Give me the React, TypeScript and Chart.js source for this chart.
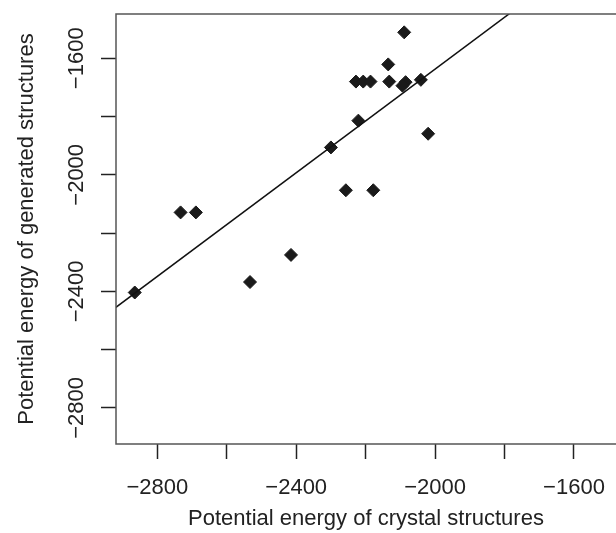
import React, { useEffect, useRef } from "react";
import { Chart, registerables } from "chart.js";

Chart.register(...registerables);

// Data
const crystalEnergy = [
  -2865, -2733, -2689, -2533, -2415, -2300, -2257, -2221, -2178, -2020,
  -2089, -2135, -2228, -2207, -2186, -2132, -2085, -2094, -2041,
];
const generatedEnergy = [
  -2404, -2129, -2129, -2368, -2275, -1906, -2053, -1814, -2053, -1859,
  -1511, -1621, -1680, -1680, -1680, -1680, -1682, -1694, -1674,
];
// Fitted line end points
const fitX = [-2950, -1450];
const fitY = [-2482, -1148];

const xTickValues = [-2800, -2600, -2400, -2200, -2000, -1800, -1600];
const yTickValues = [-2800, -2600, -2400, -2200, -2000, -1800, -1600];
const xLabelValues = [-2800, -2400, -2000, -1600];
const yLabelValues = [-2800, -2400, -2000, -1600];

const xTitle = "Potential energy of crystal structures";
const yTitle = "Potential energy of generated structures";

const FONT = "'Liberation Sans', Arial, Helvetica, sans-serif";

export default function App() {
  const ref = useRef<HTMLCanvasElement | null>(null);

  useEffect(() => {
    if (!ref.current) return;
    const boxPlugin = {
      id: "box",
      afterDatasetsDraw(chart: any) {
        const { ctx, chartArea } = chart;
        ctx.save();
        ctx.strokeStyle = "#555555";
        ctx.lineWidth = 1.5;
        ctx.beginPath();
        ctx.moveTo(chartArea.right + 2, chartArea.top);
        ctx.lineTo(chartArea.left, chartArea.top);
        ctx.lineTo(chartArea.left, chartArea.bottom);
        ctx.lineTo(chartArea.right + 2, chartArea.bottom);
        ctx.stroke();
        ctx.restore();
      },
    };
    const points = crystalEnergy.map((x, i) => ({ x, y: generatedEnergy[i] }));
    const fit = fitX.map((x, i) => ({ x, y: fitY[i] }));
    const chart = new Chart(ref.current, {
      type: "scatter",
      data: {
        datasets: [
          {
            type: "line",
            data: fit,
            borderColor: "#111111",
            borderWidth: 1.5,
            pointRadius: 0,
            fill: false,
          } as any,
          {
            data: points,
            pointStyle: "rectRot",
            pointRadius: 6.5,
            pointHoverRadius: 6.5,
            backgroundColor: "#1a1a1a",
            borderColor: "#1a1a1a",
            borderWidth: 1,
          },
        ],
      },
      options: {
        responsive: false,
        animation: false,
        events: [],
        layout: { autoPadding: false, padding: { top: 14, left: 0, right: 0, bottom: 0 } },
        plugins: {
          legend: { display: false },
          tooltip: { enabled: false },
        },
        scales: {
          x: {
            type: "linear",
            min: -2919,
            max: -1479,
            afterBuildTicks: (s: any) => {
              s.ticks = xTickValues.map((v) => ({ value: v }));
            },
            afterFit: (s: any) => {
              s.height = 89;
              s.paddingLeft = 0;
              s.paddingRight = 0;
            },
            grid: {
              drawOnChartArea: false,
              drawTicks: true,
              tickLength: 15,
              tickWidth: 1.5,
              tickColor: "#222222",
            },
            border: { display: false },
            ticks: {
              autoSkip: false,
              maxRotation: 0,
              minRotation: 0,
              padding: 16,
              color: "#222222",
              font: { family: FONT, size: 22 },
              callback: (v: any) =>
                xLabelValues.includes(Number(v)) ? String(v).replace("-", "\u2212") : "",
            },
            title: {
              display: true,
              text: xTitle,
              color: "#222222",
              font: { family: FONT, size: 22 },
              padding: { top: 0, bottom: 1 },
            },
          },
          y: {
            type: "linear",
            min: -2924,
            max: -1448,
            afterBuildTicks: (s: any) => {
              s.ticks = yTickValues.map((v) => ({ value: v }));
            },
            afterFit: (s: any) => {
              s.width = 116;
              s.paddingTop = 0;
              s.paddingBottom = 0;
            },
            grid: {
              drawOnChartArea: false,
              drawTicks: true,
              tickLength: 15,
              tickWidth: 1.5,
              tickColor: "#222222",
            },
            border: { display: false },
            ticks: {
              autoSkip: false,
              minRotation: 90,
              maxRotation: 90,
              crossAlign: "center",
              padding: -7,
              color: "#222222",
              font: { family: FONT, size: 22 },
              callback: (v: any) =>
                yLabelValues.includes(Number(v)) ? String(v).replace("-", "\u2212") : "",
            },
            title: {
              display: true,
              text: yTitle,
              color: "#222222",
              font: { family: FONT, size: 22 },
              padding: { top: 14, bottom: 0 },
            },
          },
        },
      },
      plugins: [boxPlugin],
    });
    return () => chart.destroy();
  }, []);

  return (
    <div style={{ position: "absolute", left: 0, top: 0, width: 616, height: 533, background: "#fff" }}>
      <canvas ref={ref} width={616} height={533} style={{ display: "block" }} />
    </div>
  );
}
